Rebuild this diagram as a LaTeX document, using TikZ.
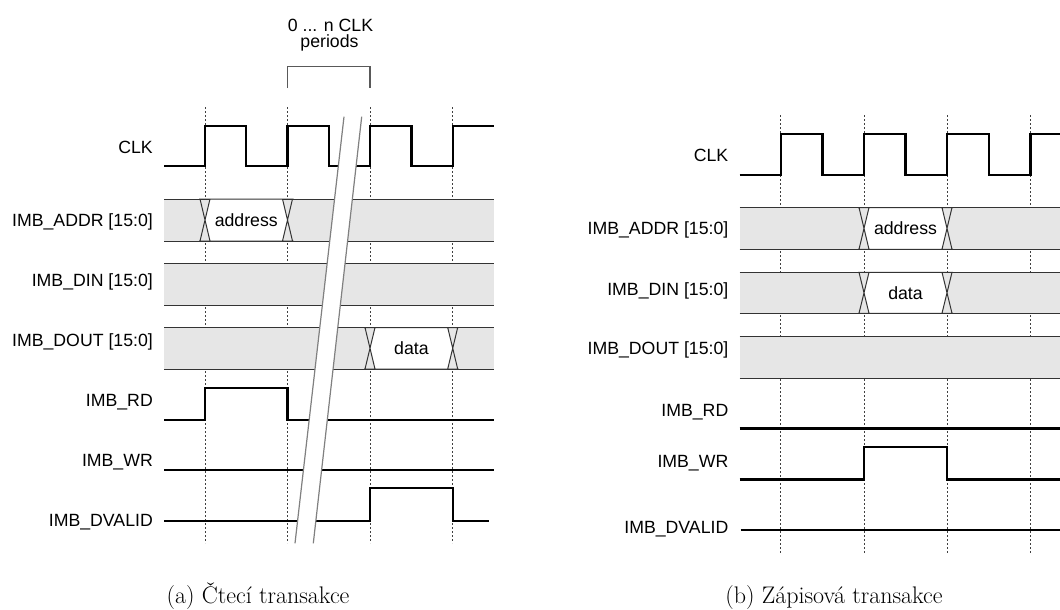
\documentclass[tikz,border=0pt]{standalone}
\usepackage{fontspec}
\newfontfamily\arialf{Liberation Sans}
\definecolor{busgray}{RGB}{230,230,230}
\newcommand\tbusgray[4]{%
  \fill[busgray] (#1,#3) rectangle (#2,#4);
  \draw[busline] (#1,#3) -- (#2,#3) (#1,#4) -- (#2,#4);}
\newcommand\tbusval[4]{%
  \fill[white] (#1,{(#3+#4)/2}) -- ({#1+5},#3) -- ({#2-5},#3) -- (#2,{(#3+#4)/2}) -- ({#2-5},#4) -- ({#1+5},#4) -- cycle;
  \draw[busline] ({#1-5},#3) -- ({#1+5},#4) ({#1+5},#3) -- ({#1-5},#4)
                 ({#2-5},#3) -- ({#2+5},#4) ({#2+5},#3) -- ({#2-5},#4)
                 ({#1-6},#3) -- ({#2+6},#3) ({#1-6},#4) -- ({#2+6},#4);}
\begin{document}
\begin{tikzpicture}[x=1pt,y=-1pt,
  sig/.style={line width=2.4pt,black},
  busline/.style={line width=1pt,draw=black!80},
  gridline/.style={line width=1pt,draw=black!75,dash pattern=on 2pt off 2pt},
  slashline/.style={line width=1.2pt,draw=black!50},
  bracketline/.style={line width=1.2pt,draw=black!65},
  lbl/.style={font=\arialf\fontsize{17.7}{20}\selectfont,anchor=base east,inner sep=0pt},
  val/.style={font=\arialf\fontsize{17.7}{20}\selectfont,anchor=base,inner sep=0pt},
  capt/.style={font=\fontsize{24}{28}\selectfont,anchor=base,inner sep=0pt}]
\useasboundingbox (0,0) rectangle (1060,610);

% ================= (a) read transaction =================
\foreach \x in {205,287.5,370,452.7} \draw[gridline] (\x,107) -- (\x,543);

\draw[sig] (164,166) -- (205,166) -- (205,126) -- (246,126) -- (246,166) -- (287.5,166)
  -- (287.5,126) -- (329,126) -- (329,166) -- (370,166) -- (370,126) -- (411.5,126)
  -- (411.5,166) -- (452.7,166) -- (452.7,126) -- (494,126);

\tbusgray{164}{494}{199}{241}
\tbusval{205}{287.5}{199}{241}
\tbusgray{164}{494}{263}{305}
\tbusgray{164}{494}{327.5}{369}
\tbusval{370}{452.7}{327.5}{369}

\draw[sig] (164,420) -- (205,420) -- (205,388) -- (287.5,388) -- (287.5,420) -- (494,420);
\draw[sig] (164,470) -- (494,470);
\draw[sig] (164,521) -- (370,521) -- (370,488) -- (452.7,488) -- (452.7,521) -- (489,521);

% break
\fill[white] (344,116.7) -- (361.7,116.7) -- (313.3,543.3) -- (295,543.3) -- cycle;
\draw[slashline] (344,116.7) -- (295,543.3);
\draw[slashline] (361.7,116.7) -- (313.3,543.3);
\draw[bracketline] (287.5,88) |- (370,66.7) -- (370,88);
\node[val] (brkA) at (330.5,32) {0 ... n CLK};
\node[val] (brkB) at (329.5,48) {periods};

\node[lbl] (Lclk) at (153,153.3) {CLK};
\node[lbl] (Laddr) at (153,226.3) {IMB\_ADDR [15:0]};
\node[lbl] (Ldin) at (153,286.3) {IMB\_DIN [15:0]};
\node[lbl] (Ldout) at (153,346) {IMB\_DOUT [15:0]};
\node[lbl] (Lrd) at (153,406) {IMB\_RD};
\node[lbl] (Lwr) at (153,466.3) {IMB\_WR};
\node[lbl] (Ldv) at (153,526.5) {IMB\_DVALID};
\node[val] (Laddrv) at (246.3,226.3) {address};
\node[val] (Ldoutv) at (411.4,354.5) {data};

\node[capt] (capA) at (258,603) {(a) Čtecí transakce};

% ================= (b) write transaction =================
\foreach \x in {780.7,864,947,1030.3} \draw[gridline] (\x,115) -- (\x,553);

\draw[sig] (739.5,175) -- (780.7,175) -- (780.7,134) -- (822.4,134) -- (822.4,175) -- (864,175)
  -- (864,134) -- (905.5,134) -- (905.5,175) -- (947,175) -- (947,134) -- (988.7,134)
  -- (988.7,175) -- (1030.3,175) -- (1030.3,134) -- (1066,134);

\tbusgray{739.5}{1066}{207.5}{249.3}
\tbusval{864}{947}{207.5}{249.3}
\tbusgray{739.5}{1066}{272.3}{313.3}
\tbusval{864}{947}{272.3}{313.3}
\tbusgray{739.5}{1066}{336.7}{378.3}

\draw[sig] (739.5,428.3) -- (1066,428.3);
\draw[sig] (739.5,479.3) -- (864,479.3) -- (864,446.7) -- (947,446.7) -- (947,479.3) -- (1066,479.3);
\draw[sig] (740.7,530) -- (1066,530);

\node[lbl] (Rclk) at (728.5,161.3) {CLK};
\node[lbl] (Raddr) at (728.5,234.3) {IMB\_ADDR [15:0]};
\node[lbl] (Rdin) at (728.5,295) {IMB\_DIN [15:0]};
\node[lbl] (Rdout) at (728.5,354.3) {IMB\_DOUT [15:0]};
\node[lbl] (Rrd) at (728.5,416.3) {IMB\_RD};
\node[lbl] (Rwr) at (728.5,467.3) {IMB\_WR};
\node[lbl] (Rdv) at (728.5,533) {IMB\_DVALID};
\node[val] (Raddrv) at (905.5,234.3) {address};
\node[val] (Rdinv) at (905.5,299.3) {data};

\node[capt] (capB) at (834,603) {(b) Zápisová transakce};
\end{tikzpicture}
\end{document}
